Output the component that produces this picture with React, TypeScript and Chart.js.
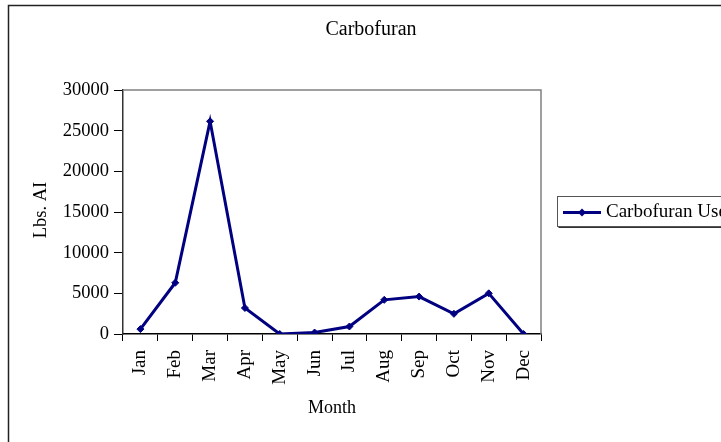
import React, { useEffect, useRef } from "react";
import { Chart, registerables } from "chart.js";

Chart.register(...registerables);

const months = ["Jan", "Feb", "Mar", "Apr", "May", "Jun", "Jul", "Aug", "Sep", "Oct", "Nov", "Dec"];
const carbofuranUse = [600, 6300, 26150, 3200, 0, 180, 920, 4200, 4600, 2480, 5000, 0];
const chartTitle = "Carbofuran";
const seriesName = "Carbofuran Use";
const yAxisTitle = "Lbs. AI";
const xAxisTitle = "Month";
const yMin = 0;
const yMax = 30000;
const yStep = 5000;

const FONT = "'Liberation Serif', 'Times New Roman', serif";
const NAVY = "#000080";
const W = 721;
const H = 442;

const decorPlugin = {
  id: "decor",
  beforeDraw(chart: any) {
    const ctx = chart.ctx;
    ctx.save();
    ctx.fillStyle = "#fff";
    ctx.fillRect(0, 0, W, H);
    ctx.restore();
  },
  afterDraw(chart: any) {
    const ctx = chart.ctx;
    const a = chart.chartArea;
    ctx.save();
    // outer frame
    ctx.strokeStyle = "#222";
    ctx.lineWidth = 1.5;
    ctx.strokeRect(8.5, 5.5, W + 20, H + 20);
    // plot border top/right
    ctx.strokeStyle = "#808080";
    ctx.lineWidth = 1.5;
    ctx.beginPath();
    ctx.moveTo(a.left, a.top);
    ctx.lineTo(a.right, a.top);
    ctx.lineTo(a.right, a.bottom);
    ctx.stroke();
    // title
    ctx.fillStyle = "#000";
    ctx.textAlign = "center";
    ctx.textBaseline = "middle";
    ctx.font = `20px ${FONT}`;
    ctx.fillText(chartTitle, 371, 30);
    // x title
    ctx.font = `18px ${FONT}`;
    ctx.fillText(xAxisTitle, (a.left + a.right) / 2, 408);
    // y title
    ctx.save();
    ctx.translate(41, 210);
    ctx.rotate(-Math.PI / 2);
    ctx.font = `18.5px ${FONT}`;
    ctx.fillText(yAxisTitle, 0, 0);
    ctx.restore();
    // legend
    const lx = 557.5, ly = 196.5, lh = 30;
    ctx.fillStyle = "#fff";
    ctx.fillRect(lx, ly, W, lh);
    ctx.strokeStyle = "#555";
    ctx.lineWidth = 1;
    ctx.strokeRect(lx, ly, W, lh);
    ctx.strokeStyle = "#333";
    ctx.beginPath();
    ctx.moveTo(lx + 1, ly + lh + 1);
    ctx.lineTo(W, ly + lh + 1);
    ctx.stroke();
    const cy = ly + lh / 2 + 1;
    ctx.strokeStyle = NAVY;
    ctx.lineWidth = 3;
    ctx.beginPath();
    ctx.moveTo(563, cy);
    ctx.lineTo(601, cy);
    ctx.stroke();
    ctx.fillStyle = NAVY;
    ctx.beginPath();
    ctx.moveTo(582, cy - 4);
    ctx.lineTo(586, cy);
    ctx.lineTo(582, cy + 4);
    ctx.lineTo(578, cy);
    ctx.closePath();
    ctx.fill();
    ctx.fillStyle = "#000";
    ctx.textAlign = "left";
    ctx.font = `19px ${FONT}`;
    ctx.fillText(seriesName, 606, cy);
    ctx.restore();
  },
};

export default function App() {
  const ref = useRef<HTMLCanvasElement | null>(null);
  useEffect(() => {
    if (!ref.current) return;
    const chart = new Chart(ref.current, {
      type: "line",
      data: {
        labels: months,
        datasets: [
          {
            label: seriesName,
            data: carbofuranUse,
            borderColor: NAVY,
            backgroundColor: NAVY,
            borderWidth: 3,
            pointStyle: "rectRot",
            pointRadius: 3.5,
            pointBackgroundColor: NAVY,
            pointBorderColor: NAVY,
            pointBorderWidth: 1,
            tension: 0,
          },
        ],
      },
      options: {
        responsive: false,
        animation: false,
        devicePixelRatio: 1,
        layout: { padding: { left: 0, top: 90, right: 180, bottom: 0 } },
        plugins: { legend: { display: false }, title: { display: false }, tooltip: { enabled: false } },
        scales: {
          x: {
            type: "category",
            offset: true,
            grid: { offset: true, drawOnChartArea: false, drawTicks: true, tickLength: 7, color: "#000", lineWidth: 1 },
            border: { color: "#000", width: 1.5 },
            ticks: {
              autoSkip: false,
              minRotation: 90,
              maxRotation: 90,
              padding: 9,
              color: "#000",
              font: { family: FONT, size: 19 },
            },
            afterFit: (s: any) => {
              s.height = H - 334;
            },
          },
          y: {
            min: yMin,
            max: yMax,
            grid: { drawOnChartArea: false, drawTicks: true, tickLength: 9, color: "#000", lineWidth: 1 },
            border: { color: "#333", width: 1.5 },
            ticks: {
              stepSize: yStep,
              padding: 5,
              color: "#000",
              font: { family: FONT, size: 18.5 },
              callback: (v: any) => String(v),
            },
            afterFit: (s: any) => {
              s.width = 123;
            },
          },
        },
      },
      plugins: [decorPlugin],
    });
    return () => chart.destroy();
  }, []);
  return (
    <div style={{ position: "fixed", left: 0, top: 0, width: W, height: H, background: "#fff" }}>
      <canvas ref={ref} width={W} height={H} style={{ display: "block", width: W, height: H }} />
    </div>
  );
}
